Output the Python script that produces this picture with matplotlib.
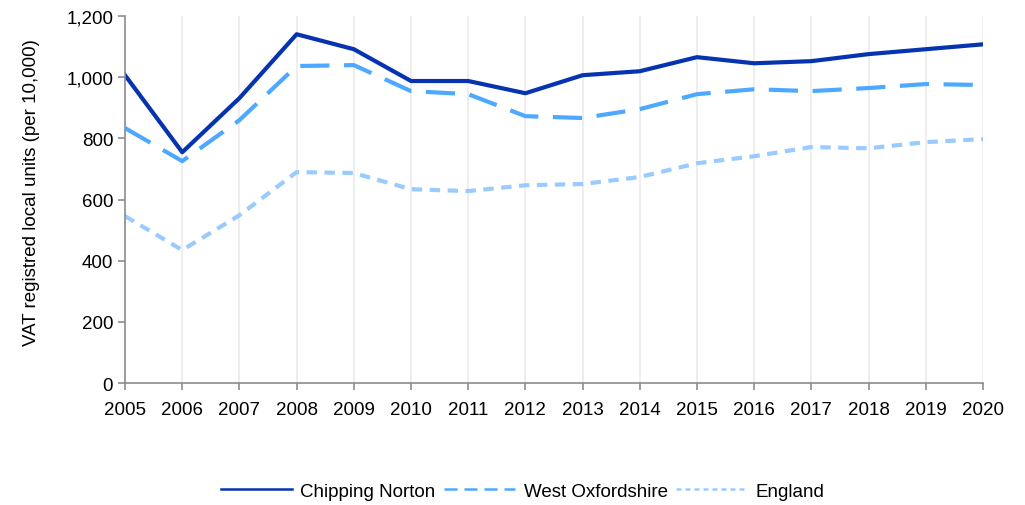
import numpy as np
import matplotlib.pyplot as plt
from matplotlib.lines import Line2D
from matplotlib.ticker import FuncFormatter

plt.rcParams['font.family'] = ['Liberation Sans', 'DejaVu Sans']

# ==============================
# DATA
# ==============================
years = list(range(2005, 2021))
chipping_norton = [1007, 755, 932, 1141, 1092, 988, 988, 948, 1007, 1020, 1066, 1046, 1053, 1076, 1092, 1108]
west_oxfordshire = [834, 726, 860, 1037, 1040, 955, 945, 873, 867, 896, 945, 961, 955, 965, 978, 975]
england = [546, 435, 549, 690, 687, 634, 628, 647, 651, 674, 719, 742, 772, 768, 788, 798]

labels = ['Chipping Norton', 'West Oxfordshire', 'England']
colors = ['#0633B0', '#4DA8FF', '#9ACBFF']

# ==============================
# PLOT
# ==============================
fig = plt.figure(figsize=(10.25, 5.06), dpi=100)
ax = fig.add_axes([0.122, 0.241, 0.837, 0.725])

ax.plot(years, chipping_norton, color=colors[0], lw=3)
ax.plot(years, west_oxfordshire, color=colors[1], lw=3, dashes=(7, 3.5))
ax.plot(years, england, color=colors[2], lw=3, dashes=(2.5, 1.8))

ax.set_xlim(2005, 2020)
ax.set_ylim(0, 1200)
ax.set_xticks(years)
ax.set_yticks(np.arange(0, 1201, 200))
ax.yaxis.set_major_formatter(FuncFormatter(lambda v, p: f'{int(v):,}'))

ax.grid(axis='x', color='#EBEBEB', lw=1.2)
ax.set_axisbelow(True)
for side in ['top', 'right']:
    ax.spines[side].set_visible(False)
for side in ['left', 'bottom']:
    ax.spines[side].set_color('#8C8C8C')
    ax.spines[side].set_linewidth(1.2)
ax.tick_params(colors='#8C8C8C', labelcolor='black', labelsize=13.5, length=5, width=1.2)
ax.tick_params(axis='x', pad=8)

ax.set_ylabel('VAT registred local units (per 10,000)', fontsize=13.5)
ax.yaxis.set_label_coords(-0.099, 0.523)

# thinner proxy lines for the legend
handles = [
    Line2D([], [], color=colors[0], lw=1.8),
    Line2D([], [], color=colors[1], lw=1.8, dashes=(5.2, 2.8)),
    Line2D([], [], color=colors[2], lw=1.8, dashes=(2.0, 1.6)),
]
fig.legend(handles, labels, loc='center', bbox_to_anchor=(0.51, 0.027), ncol=3, frameon=False,
           fontsize=13.5, handlelength=3.8, columnspacing=0.45, handletextpad=0.45)

plt.savefig('out.png', dpi=100)
